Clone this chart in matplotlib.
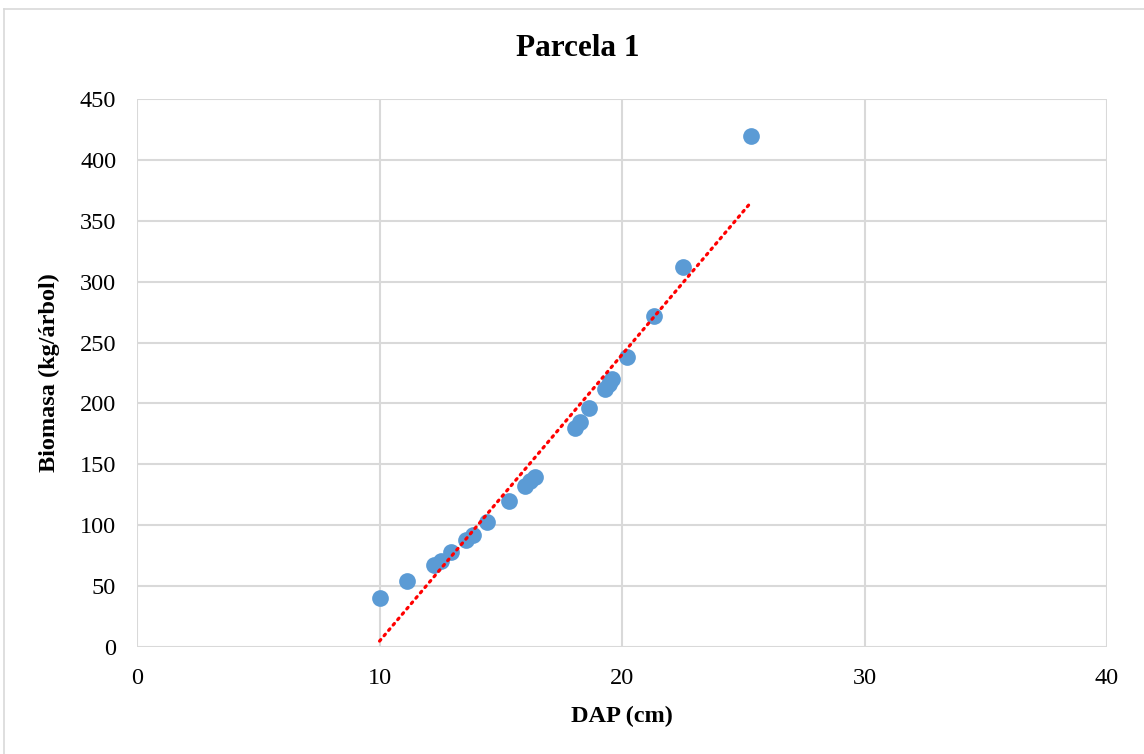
import numpy as np
import matplotlib
matplotlib.use('Agg')
import matplotlib.pyplot as plt
from matplotlib.lines import Line2D

# DAP (cm) vs Biomasa (kg/arbol)
dap = [10.0, 11.15, 12.25, 12.55, 12.95, 13.55, 13.85, 14.45, 15.35,
       16.0, 16.2, 16.4, 18.05, 18.25, 18.65, 19.3, 19.45, 19.6, 20.2,
       21.3, 22.5, 25.3]
biomasa = [40, 54, 67, 71, 78, 88, 92, 103, 120,
           132, 136, 140, 180, 185, 196, 212, 216, 220, 238,
           272, 312, 420]

title = 'Parcela 1'
xlab = 'DAP (cm)'
ylab = 'Biomasa (kg/árbol)'

plt.rcParams['font.family'] = ['Liberation Serif', 'DejaVu Serif']

fig = plt.figure(figsize=(11.44, 7.54), dpi=100)
ax = fig.add_axes([0.1198, 0.1419, 0.9677 - 0.1198, 0.8687 - 0.1419])

ax.scatter(dap, biomasa, s=145, color='#5B9BD5', zorder=3, linewidths=0)

# linear trend line over the data range
m, b = np.polyfit(dap, biomasa, 1)
xt = np.array([min(dap), max(dap)])
ax.plot(xt, m * xt + b, color='#FF0000', lw=2.3, ls=(0, (0.6, 1.6)),
        dash_capstyle='round', zorder=4)

ax.set_xlim(0, 40)
ax.set_ylim(0, 450)
ax.set_xticks(range(0, 41, 10))
ax.set_yticks(range(0, 451, 50))
ax.grid(color='#D9D9D9', lw=1.5)
ax.set_axisbelow(True)
for s in ax.spines.values():
    s.set_visible(False)
ax.tick_params(axis='x', length=0, labelsize=17.5, pad=15)
ax.tick_params(axis='y', length=0, labelsize=17.5, pad=15)

fig.text(578 / 1144, 1 - 48 / 754, title, fontsize=22.5, fontweight='bold',
         ha='center', va='center')
ax.set_xlabel(xlab, fontsize=17.5, fontweight='bold', labelpad=12)
ax.set_ylabel(ylab, fontsize=17.5, fontweight='bold', labelpad=14)

# outer chart frame
fig.add_artist(Line2D([4 / 1144, 4 / 1144], [0, 1 - 9 / 754], color='#D9D9D9', lw=1.2,
                      transform=fig.transFigure))
fig.add_artist(Line2D([4 / 1144, 1], [1 - 9 / 754, 1 - 9 / 754], color='#D9D9D9', lw=1.2,
                      transform=fig.transFigure))

fig.savefig('out.png', dpi=100)
